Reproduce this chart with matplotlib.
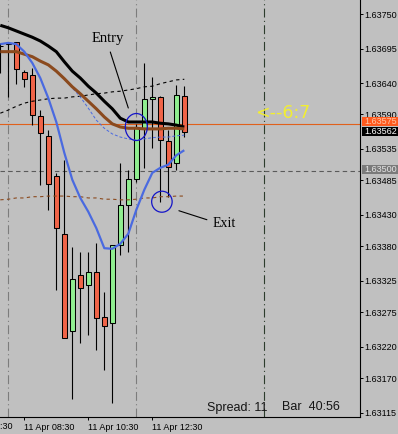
import matplotlib
matplotlib.use("Agg")
import matplotlib.pyplot as plt
import numpy as np
import pandas as pd
from matplotlib.patches import Ellipse, Rectangle
from matplotlib.transforms import offset_copy, blended_transform_factory

plt.rcParams['font.family'] = ['Liberation Sans', 'DejaVu Sans']

# ---------------- data ----------------
bar_start = "2011-04-11 07:45"
bar_minutes = 15

opens  = [1.63699, 1.63704, 1.63705, 1.63658, 1.63653, 1.63588, 1.63556, 1.63492,
          1.63400, 1.63245, 1.63334, 1.63318, 1.63339, 1.63267, 1.63258, 1.63382,
          1.63446, 1.63487, 1.63568, 1.63615, 1.63618, 1.63548, 1.63513, 1.63619]
highs  = [1.63704, 1.63705, 1.63706, 1.63661, 1.63664, 1.63597, 1.63565, 1.63497,
          1.63518, 1.63379, 1.63371, 1.63371, 1.63385, 1.63307, 1.63382, 1.63513,
          1.63502, 1.63575, 1.63672, 1.63650, 1.63620, 1.63565, 1.63637, 1.63635]
lows   = [1.63656, 1.63618, 1.63639, 1.63634, 1.63573, 1.63478, 1.63438, 1.63310,
          1.63234, 1.63137, 1.63226, 1.63239, 1.63215, 1.63183, 1.63130, 1.63366,
          1.63371, 1.63482, 1.63505, 1.63537, 1.63451, 1.63459, 1.63502, 1.63554]
closes = [1.63699, 1.63702, 1.63662, 1.63647, 1.63589, 1.63561, 1.63479, 1.63409,
          1.63234, 1.63328, 1.63314, 1.63339, 1.63266, 1.63253, 1.63382, 1.63446,
          1.63487, 1.63570, 1.63615, 1.63618, 1.63549, 1.63506, 1.63621, 1.63562]

ma_black = [1.63732, 1.63728, 1.63723, 1.63718, 1.63713, 1.63707, 1.63699, 1.63690,
            1.63674, 1.63659, 1.63648, 1.63635, 1.63624, 1.63611, 1.63599, 1.63584,
            1.63578, 1.63578, 1.63578, 1.63578, 1.63576, 1.63575, 1.63573, 1.63570]
ma_brown = [1.63690, 1.63690, 1.63690, 1.63686, 1.63682, 1.63675, 1.63669, 1.63659,
            1.63647, 1.63634, 1.63623, 1.63611, 1.63599, 1.63586, 1.63575, 1.63570,
            1.63568, 1.63568, 1.63567, 1.63567, 1.63567, 1.63568, 1.63568, 1.63567]
ma_blue  = [1.63702, 1.63704, 1.63702, 1.63690, 1.63672, 1.63648, 1.63616, 1.63578,
            1.63529, 1.63486, 1.63457, 1.63435, 1.63409, 1.63377, 1.63376, 1.63384,
            1.63400, 1.63438, 1.63470, 1.63497, 1.63505, 1.63510, 1.63525, 1.63533]
blue_dash_first_bar = 7
blue_dash = [1.63659, 1.63647, 1.63632, 1.63618, 1.63600, 1.63581, 1.63568, 1.63559,
             1.63554, 1.63551, 1.63549, 1.63551, 1.63553, 1.63554, 1.63554, 1.63556,
             1.63557]
black_dash = [1.63592, 1.63597, 1.63603, 1.63608, 1.63611, 1.63613, 1.63615, 1.63616,
              1.63616, 1.63618, 1.63619, 1.63621, 1.63623, 1.63624, 1.63626, 1.63627,
              1.63629, 1.63631, 1.63634, 1.63635, 1.63639, 1.63642, 1.63645, 1.63646]
brown_dash = [1.63454, 1.63455, 1.63457, 1.63457, 1.63459, 1.63459, 1.63460, 1.63460,
              1.63460, 1.63459, 1.63459, 1.63457, 1.63457, 1.63455, 1.63455, 1.63454,
              1.63454, 1.63455, 1.63457, 1.63457, 1.63459, 1.63459, 1.63460, 1.63460]

ytick_values = [1.63750, 1.63695, 1.63640, 1.63590, 1.63535, 1.63485, 1.63430,
                1.63380, 1.63325, 1.63275, 1.63220, 1.63170, 1.63115]
xtick_times = ["2011-04-11 06:30", "2011-04-11 08:30", "2011-04-11 10:30", "2011-04-11 12:30"]
xtick_labels = ["11 Apr 06:30", "11 Apr 08:30", "11 Apr 10:30", "11 Apr 12:30"]
separator_times = ["2011-04-11 08:00", "2011-04-11 12:00"]
marker_time = "2011-04-11 16:00"

ask_price = 1.63575
bid_price = 1.63562
level_price = 1.63500
entry_bar = 17
exit_bar = 20
signal_text = "<--6:7"
spread_text = "Spread: 11"
bar_text = "Bar  40:56"

# ---------------- layout ----------------
W, H, DPI = 398, 434, 100
BG = "#C0C0C0"
fig = plt.figure(figsize=(W / DPI, H / DPI), dpi=DPI, facecolor=BG)
ax_left_px, ax_right_px, ax_bottom_px = 0, 359.5, 417
ax = fig.add_axes([ax_left_px / W, (H - ax_bottom_px) / H,
                   (ax_right_px - ax_left_px) / W, ax_bottom_px / H])
ax.set_facecolor(BG)

t0 = pd.Timestamp(bar_start)
def bar_pos(t):
    return (pd.Timestamp(t) - t0) / pd.Timedelta(minutes=bar_minutes)

n = len(opens)
x = np.arange(n)
o, h, l, c = map(np.array, (opens, highs, lows, closes))

px_per_bar = 8.0
ymin, ymax = 1.631081, 1.637723
ax.set_xlim(-0.3 / px_per_bar, (ax_right_px - 0.3) / px_per_bar)
ax.set_ylim(ymin, ymax)
pr = (ymax - ymin) / ax_bottom_px  # price per pixel

# separators
for t in separator_times:
    ax.axvline(bar_pos(t), color="#7c7c7c", lw=0.8, ls=(0, (8, 3, 1, 3)), zorder=1)
ax.axvline(bar_pos(marker_time), color="#2c3c2c", lw=0.8, ls=(0, (8, 3, 1, 3)), zorder=1)

# horizontal levels
ax.axhline(level_price, color="#5a5a5a", lw=0.8, ls=(0, (4, 3)), zorder=1)
ax.axhline(ask_price, color="#E0601C", lw=0.8, zorder=1)

# candles
ax.vlines(x, l, h, color="black", lw=0.8, zorder=2)
up = c >= o
body_col = np.where(up, "#90EE90", "#F06448")
ax.bar(x, np.abs(c - o), bottom=np.minimum(o, c), width=0.56, color=body_col,
       edgecolor="black", linewidth=0.75, zorder=3)

# indicators
ax.plot(x, brown_dash, color="#8B4A1E", lw=0.8, ls=(0, (3, 3)), zorder=4)
ax.plot(x, black_dash, color="black", lw=0.8, ls=(0, (3, 3)), zorder=4)
xb = np.arange(blue_dash_first_bar, blue_dash_first_bar + len(blue_dash))
ax.plot(xb, blue_dash, color="#4A6AE0", lw=0.7, ls=(0, (3, 2)), zorder=4)
ax.plot(x, ma_black, color="black", lw=2.2, zorder=5, solid_capstyle="butt")
ax.plot(x, ma_brown, color="#8B4A1E", lw=2.2, zorder=5, solid_capstyle="butt")
ax.plot(x, ma_blue, color="#4A6AE0", lw=1.6, zorder=5, solid_capstyle="butt")

# circles
ax.add_patch(Ellipse((entry_bar, closes[entry_bar]), 22 / px_per_bar, 27 * pr,
                     fill=False, ec="#1414C8", lw=0.9, zorder=6))
ax.add_patch(Ellipse((exit_bar + 0.2, lows[exit_bar]), 20.5 / px_per_bar, 21 * pr,
                     fill=False, ec="#1414C8", lw=0.9, zorder=6))

def off(dx, dy):
    return offset_copy(ax.transData, fig=fig, x=dx, y=dy, units='dots')

# annotations (offsets in pixels, y up)
ea = (entry_bar, closes[entry_bar])
ax.annotate("", xy=ea, xycoords=off(-8, 19), xytext=ea, textcoords=off(-26, 75),
            arrowprops=dict(arrowstyle="-", color="black", lw=0.8, shrinkA=0, shrinkB=0))
ax.text(ea[0], ea[1], "Entry", transform=off(-29, 89), ha="center", va="center",
        family="Liberation Serif", fontsize=10.5, color="black")
xa = (exit_bar + 0.2, lows[exit_bar])
ax.annotate("", xy=xa, xycoords=off(17, -9), xytext=xa, textcoords=off(45, -18),
            arrowprops=dict(arrowstyle="-", color="black", lw=0.8, shrinkA=0, shrinkB=0))
ax.text(xa[0], xa[1], "Exit", transform=off(62, -22), ha="center", va="center",
        family="Liberation Serif", fontsize=10, color="black")

ax.text(283 / ax_right_px, 1 - 112.5 / ax_bottom_px, signal_text, transform=ax.transAxes,
        ha="center", va="center", family="DejaVu Sans", fontsize=12.5, color="#F2EE30")
ax.text(206.7 / ax_right_px, 1 - 410.5 / ax_bottom_px, spread_text, transform=ax.transAxes,
        ha="left", va="baseline", fontsize=9, color="#151515")
ax.text(281.7 / ax_right_px, 1 - 410.5 / ax_bottom_px, bar_text, transform=ax.transAxes,
        ha="left", va="baseline", fontsize=9, color="#151515")

# spines & ticks
for s in ("left", "top"):
    ax.spines[s].set_visible(False)
for s in ("right", "bottom"):
    ax.spines[s].set_color("black")
    ax.spines[s].set_linewidth(0.8)
ax.yaxis.tick_right()
ax.set_yticks(ytick_values)
ax.set_yticklabels([f"{v:.5f}" for v in ytick_values])
xt = [bar_pos(t) for t in xtick_times]
ax.set_xticks(xt[1:])
ax.set_xticklabels(xtick_labels[1:], ha="left")
ax.tick_params(axis="both", direction="out", length=2.2, width=0.7, colors="black",
               labelsize=6.5, pad=1.5)
ax.tick_params(axis="x", pad=2)
# partially visible first label (cut at the figure edge, as in the terminal)
first_tr = offset_copy(blended_transform_factory(ax.transData, ax.transAxes), fig=fig,
                       x=2, y=0, units='dots')
ax.text(xt[0], -0.012, xtick_labels[0], transform=first_tr,
        ha="left", va="top", fontsize=6.5, color="black", clip_on=False)

# price boxes on the right (fixed 9 px tall boxes)
box_tr = blended_transform_factory(ax.transAxes, ax.transData)
box_x0 = 1 + 2.5 / ax_right_px
box_w = (W - ax_right_px) / ax_right_px
txt_tr = offset_copy(box_tr, fig=fig, x=5, y=0, units='dots')
def price_box(price, fc, tc, shift_px, z):
    yc = price + shift_px * pr
    ax.add_patch(Rectangle((box_x0, yc - 4.6 * pr), box_w, 9.2 * pr, transform=box_tr,
                           fc=fc, ec="none", clip_on=False, zorder=z))
    ax.text(1.0, yc, f"{price:.5f}", transform=txt_tr, ha="left", va="center",
            fontsize=6.5, color=tc, clip_on=False, zorder=z + 0.5)
price_box(level_price, "#7A7A7A", "#E6E6E6", 1.5, 10)
price_box(ask_price, "#FF5A1E", "#FFC8A8", 2.0, 10)
price_box(bid_price, "black", "white", 0.5, 11)

fig.savefig("out.png", dpi=DPI, facecolor=BG)
